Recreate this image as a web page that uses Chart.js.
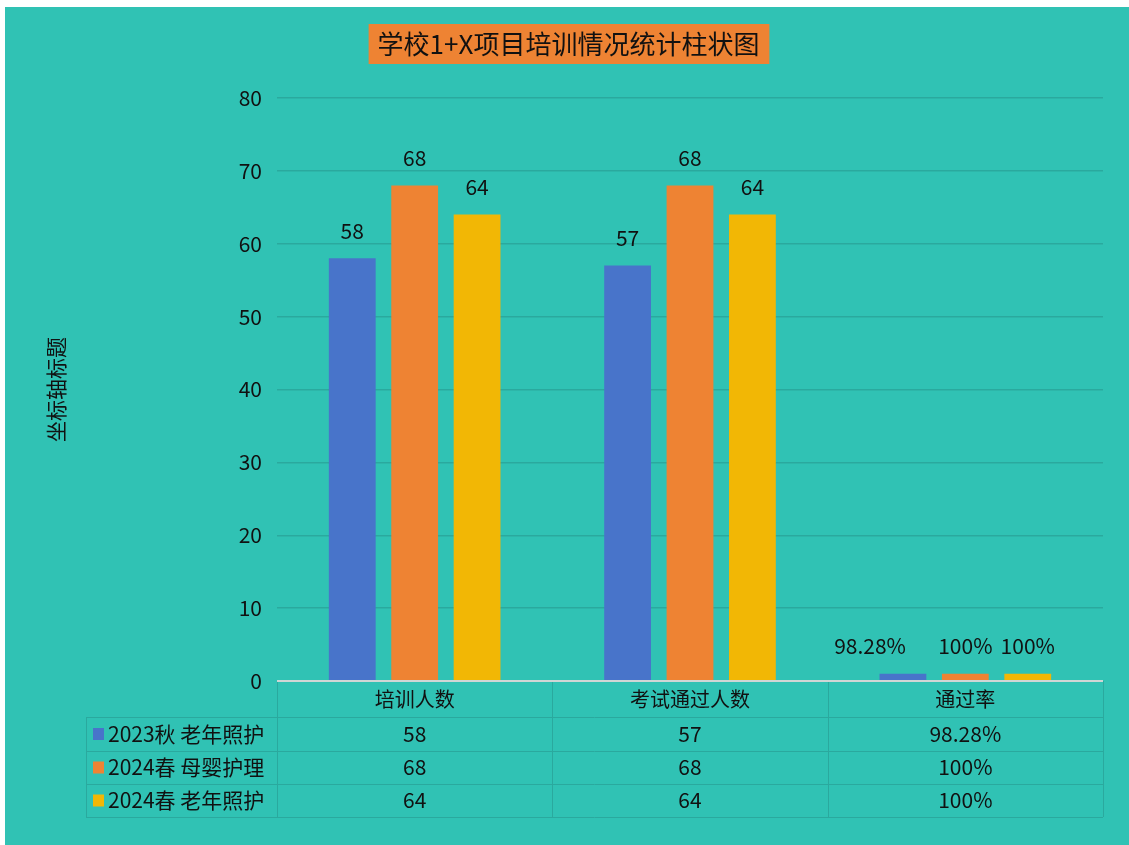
<!DOCTYPE html>
<html>
<head>
<meta charset="utf-8">
<script src="https://cdn.jsdelivr.net/npm/chart.js@4/dist/chart.umd.min.js"></script>
<style>
  html, body { margin: 0; padding: 0; background: #fff; }
  #box { position: absolute; left: 5px; top: 7px; width: 1124px; height: 838px; background: #30c2b4; }
</style>
</head>
<body>
<div id="box"><canvas id="myChart"></canvas></div>
<script>
var categories = ['培训人数', '考试通过人数', '通过率'];
var seriesNames = ['2023秋 老年照护', '2024春 母婴护理', '2024春 老年照护'];
var autumn2023Elder = [58, 57, 0.9828];
var spring2024Baby = [68, 68, 1];
var spring2024Elder = [64, 64, 1];
var yTicks = [0, 10, 20, 30, 40, 50, 60, 70, 80];
var colors = ['#4874ca', '#ee8333', '#f2b705'];

var FONT = '"Noto Sans CJK SC", "Noto Sans", sans-serif';
var TEXT = '#111111';
var LINE = '#2aa99e';

function fmt(v, cat) {
    if (cat === 2) return (Math.round(v * 10000) / 100) + '%';
    return String(v);
}

// orange box behind title
var titleBox = {
    id: 'titleBox',
    beforeDraw: function (chart) {
        var ctx = chart.ctx;
        var tb = chart.titleBlock;
        ctx.save();
        ctx.font = '26px ' + FONT;
        var w = ctx.measureText(chart.options.plugins.title.text).width;
        var cx = (tb.left + tb.right) / 2;
        ctx.fillStyle = '#ee8333';
        ctx.fillRect(cx - w / 2 - 9, tb.top + 17, w + 19, 40);
        ctx.restore();
    }
};

// value labels above bars
var barLabels = {
    id: 'barLabels',
    afterDatasetsDraw: function (chart) {
        var ctx = chart.ctx;
        ctx.save();
        ctx.font = '21px ' + FONT;
        ctx.fillStyle = TEXT;
        ctx.textBaseline = 'bottom';
        chart.data.datasets.forEach(function (ds, i) {
            var meta = chart.getDatasetMeta(i);
            meta.data.forEach(function (bar, j) {
                var s = fmt(ds.data[j], j);
                var w = ctx.measureText(s).width;
                if (w > bar.width * 1.3) {
                    ctx.textAlign = 'right';
                    ctx.fillText(s, bar.x + 3, bar.y - 17);
                } else {
                    ctx.textAlign = 'center';
                    ctx.fillText(s, bar.x, bar.y - 17);
                }
            });
        });
        ctx.restore();
    }
};

// data table under the x axis
var dataTable = {
    id: 'dataTable',
    afterDraw: function (chart) {
        var ctx = chart.ctx;
        var a = chart.chartArea;
        var x = chart.scales.x;
        var top = a.bottom;
        var rows = [top + 36, top + 70, top + 103, top + 136];
        var left = 81;
        ctx.save();
        ctx.strokeStyle = LINE;
        ctx.lineWidth = 1;
        ctx.beginPath();
        rows.forEach(function (y) {
            ctx.moveTo(left, y + 0.5); ctx.lineTo(a.right, y + 0.5);
        });
        ctx.moveTo(left + 0.5, rows[0]); ctx.lineTo(left + 0.5, rows[3]);
        var n = categories.length;
        var step = (a.right - a.left) / n;
        for (var k = 0; k <= n; k++) {
            var vx = Math.round(a.left + step * k) + 0.5;
            ctx.moveTo(vx, top); ctx.lineTo(vx, rows[3]);
        }
        ctx.stroke();

        // axis line
        ctx.strokeStyle = '#cfd6d5';
        ctx.lineWidth = 2;
        ctx.beginPath();
        ctx.moveTo(a.left, top); ctx.lineTo(a.right, top);
        ctx.stroke();

        ctx.textBaseline = 'middle';
        chart.data.datasets.forEach(function (ds, i) {
            var cy = (rows[i] + rows[i + 1]) / 2;
            ctx.fillStyle = colors[i];
            ctx.fillRect(88, cy - 6, 11, 12);
            ctx.fillStyle = TEXT;
            ctx.font = '21px ' + FONT;
            ctx.textAlign = 'left';
            ctx.fillText(seriesNames[i], 103, cy);
            ctx.textAlign = 'center';
            ds.data.forEach(function (v, j) {
                ctx.fillText(fmt(v, j), x.getPixelForValue(j), cy);
            });
        });
        ctx.restore();
    }
};

var ctx = document.getElementById('myChart').getContext('2d');

var graphData = {
    type: 'bar',
    data: {
        labels: categories,
        datasets: [
            { label: seriesNames[0], data: autumn2023Elder, backgroundColor: colors[0] },
            { label: seriesNames[1], data: spring2024Baby, backgroundColor: colors[1] },
            { label: seriesNames[2], data: spring2024Elder, backgroundColor: colors[2] }
        ]
    },
    options: {
        responsive: true,
        maintainAspectRatio: false,
        animation: false,
        layout: { padding: { left: 29, right: 26, top: 0, bottom: 0 } },
        datasets: { bar: { categoryPercentage: 0.68, barPercentage: 0.75 } },
        plugins: {
            legend: { display: false },
            tooltip: { enabled: false },
            title: {
                display: true,
                text: '学校1+X项目培训情况统计柱状图',
                color: TEXT,
                font: { family: FONT, size: 26, weight: 'normal', lineHeight: 40 / 26 },
                padding: { top: 17, bottom: 34 }
            }
        },
        scales: {
            x: {
                grid: { display: false, drawTicks: false },
                border: { display: false },
                ticks: { color: TEXT, font: { family: FONT, size: 20 }, padding: 6, maxRotation: 0 },
                afterFit: function (s) { s.height = 164; }
            },
            y: {
                min: 0,
                max: 80,
                afterBuildTicks: function (s) { s.ticks = yTicks.map(function (v) { return { value: v }; }); },
                grid: { color: LINE, lineWidth: 1.5, drawTicks: false },
                border: { display: false },
                ticks: { color: TEXT, font: { family: FONT, size: 21 }, padding: 15 },
                title: {
                    display: true,
                    text: '坐标轴标题',
                    color: TEXT,
                    font: { family: FONT, size: 21 },
                    padding: { top: 9, bottom: 0 }
                },
                afterFit: function (s) { s.width = 243; }
            }
        }
    },
    plugins: [titleBox, barLabels, dataTable]
};

var myChart = new Chart(ctx, graphData);
</script>
</body>
</html>
